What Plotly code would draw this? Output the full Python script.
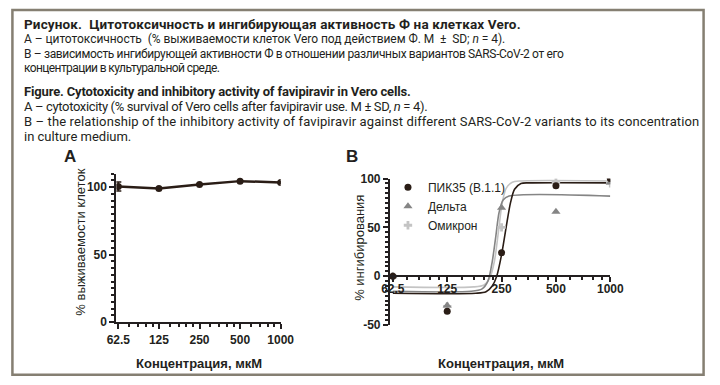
import math
import plotly.graph_objects as go

W, H = 720, 385
def px(x): return x / W
def py(y): return 1 - y / H

# ---------------- data ----------------
conc = [62.5, 125, 250, 500, 1000]
tick_text = ["62.5", "125", "250", "500", "1000"]

# Panel A: cytotoxicity (% survival), M ± SD
survival = [100.5, 99.0, 102.0, 104.5, 103.5]
survival_sd = [3.3, 0.5, 0.5, 0.5, 0.5]

# Panel B: % inhibition points
pik35 = [0, -36, 24, 92.5, 100]
delta = [0, -30, 70, 66, 96]
omicron = [0, -31, 50, 96, 95]

# Panel B: fitted curves
pik35_curve_x = [62.5, 180, 205, 222, 235, 250, 265, 280, 295, 320, 370, 1000]
pik35_curve_y = [-17.5, -17.5, -16, -10, 0, 22, 50, 75, 89, 95, 95.5, 95.5]
delta_curve_x = [62.5, 170, 195, 210, 222, 232, 242, 255, 275, 1000]
delta_curve_y = [-15.5, -15.5, -13, -5, 15, 40, 65, 78, 82, 82]
omicron_curve_x = [62.5, 175, 200, 215, 228, 240, 252, 265, 285, 320, 1000]
omicron_curve_y = [-11, -11, -9, -2, 15, 45, 75, 90, 96, 97.5, 97.5]

series_names = ["ПИК35 (B.1.1)", "Дельта", "Омикрон"]

# ---------------- style ----------------
INK = "#231f20"
DARK = "#2a1d16"
DGRAY = "#858585"
LGRAY = "#c4c4c4"
FONT = "Liberation Sans, Arial, sans-serif"
CAPT = "Roboto, Arial, sans-serif"

def minor_vals(majors):
    out = []
    for a in majors[:-1]:
        for f in (1.2, 1.4, 1.6, 1.8):
            out.append(a * f)
    return out

fig = go.Figure()

# Panel A
fig.add_trace(go.Scatter(
    x=conc, y=survival, mode="lines+markers",
    line=dict(color=DARK, width=2.5),
    marker=dict(color=DARK, size=7, symbol="circle"),
    error_y=dict(type="data", array=survival_sd, color=DARK, thickness=1.5, width=3),
    xaxis="x", yaxis="y", showlegend=False))

# Panel B curves
fig.add_trace(go.Scatter(x=omicron_curve_x, y=omicron_curve_y, mode="lines",
                         line=dict(color=LGRAY, width=1.6, shape="spline", smoothing=0.8),
                         xaxis="x2", yaxis="y2", showlegend=False))
fig.add_trace(go.Scatter(x=delta_curve_x, y=delta_curve_y, mode="lines",
                         line=dict(color=DGRAY, width=1.6, shape="spline", smoothing=0.8),
                         xaxis="x2", yaxis="y2", showlegend=False))
fig.add_trace(go.Scatter(x=pik35_curve_x, y=pik35_curve_y, mode="lines",
                         line=dict(color=DARK, width=1.6, shape="spline", smoothing=0.8),
                         xaxis="x2", yaxis="y2", showlegend=False))

# Panel B points
fig.add_trace(go.Scatter(x=conc, y=omicron, mode="markers", name=series_names[2],
                         marker=dict(color=LGRAY, size=7, symbol="cross"),
                         xaxis="x2", yaxis="y2", legendrank=3))
fig.add_trace(go.Scatter(x=conc, y=delta, mode="markers", name=series_names[1],
                         marker=dict(color=DGRAY, size=8, symbol="triangle-up"),
                         xaxis="x2", yaxis="y2", legendrank=2))
fig.add_trace(go.Scatter(x=conc, y=pik35, mode="markers", name=series_names[0],
                         marker=dict(color=DARK, size=7, symbol="circle"),
                         xaxis="x2", yaxis="y2", legendrank=1))

bold_ticks = ["<b>%s</b>" % t for t in tick_text]
common_x = dict(type="log", tickmode="array", tickvals=conc, ticktext=bold_ticks,
                ticks="outside", ticklen=5, tickwidth=2, tickcolor=INK,
                showline=True, linewidth=2, linecolor=INK, showgrid=False, zeroline=False,
                tickfont=dict(family=FONT, size=12, color=INK),
                minor=dict(tickmode="array", tickvals=minor_vals(conc), ticks="outside",
                           ticklen=3, tickwidth=1.5, tickcolor=INK, showgrid=False))
common_y = dict(ticks="outside", ticklen=5, tickwidth=2, tickcolor=INK,
                showline=True, linewidth=2, linecolor=INK, showgrid=False, zeroline=False,
                tickfont=dict(family=FONT, size=12, color=INK),
                minor=dict(dtick=5, tick0=0, ticks="outside", ticklen=3, tickwidth=1.5,
                           tickcolor=INK, showgrid=False))

fig.update_layout(
    width=W, height=H, margin=dict(l=0, r=0, t=0, b=0),
    paper_bgcolor="white", plot_bgcolor="white",
    font=dict(family=FONT, color=INK),
    xaxis=dict(domain=[px(110), px(280)], range=[math.log10(60.4), 3], anchor="y", **common_x),
    yaxis=dict(domain=[py(327), py(173)], range=[0, 110], anchor="x",
               tickvals=[0, 50, 100], ticktext=["<b>0</b>", "<b>50</b>", "<b>100</b>"], **common_y),
    xaxis2=dict(domain=[px(393), px(621)], range=[math.log10(60.2), 3], anchor="free",
                position=py(279), ticklabelstandoff=-3, **common_x),
    yaxis2=dict(domain=[py(330), py(178)], range=[-50, 100], anchor="x2",
                tickvals=[-50, 0, 50, 100],
                ticktext=["<b>-50</b>", "<b>0</b>", "<b>50</b>", "<b>100</b>"], **common_y),
    legend=dict(x=px(391), y=py(172), xanchor="left", yanchor="top",
                bgcolor="rgba(0,0,0,0)", font=dict(family=FONT, size=12, color=INK),
                tracegroupgap=0),
)

# frame
fig.add_shape(type="rect", xref="paper", yref="paper",
              x0=px(2.5), x1=px(717.5), y0=py(381.5), y1=py(3),
              line=dict(color="#857f72", width=2.5))

ann = []
def text(x, y, s, size=13, fam=FONT, xanchor="left", angle=0):
    ann.append(dict(x=px(x), y=py(y), xref="paper", yref="paper", text=s, showarrow=False,
                    xanchor=xanchor, yanchor="middle", textangle=angle,
                    font=dict(family=fam, size=size, color=INK)))

def sp(s, ls):
    return '<span style="letter-spacing:%spx">%s</span>' % (ls, s)

lines = [
    (17.5, 13.5, sp("<b>Рисунок.  Цитотоксичность и ингибирующая активность Ф на клетках Vero.</b>", 0.15)),
    (33, 12, sp("А – цитотоксичность  (% выживаемости клеток Vero под действием Ф. М  ±  SD; <i>n</i> = 4).", -0.05)),
    (48.3, 12, sp("В – зависимость ингибирующей активности Ф в отношении различных вариантов SARS-CoV-2 от его", -0.35)),
    (63.6, 12, sp("концентрации в культуральной среде.", -0.6)),
    (88, 13, sp("<b>Figure. Cytotoxicity and inhibitory activity of favipiravir in Vero cells.</b>", -0.15)),
    (103.3, 13, sp("A – cytotoxicity (% survival of Vero cells after favipiravir use. M ± SD, <i>n</i> = 4).", -0.35)),
    (118.6, 13, sp("B – the relationship of the inhibitory activity of favipiravir against different SARS-CoV-2 variants to its concentration", 0.12)),
    (133.9, 13, "in culture medium."),
]
for y, size, s in lines:
    text(12, y, s, size=size, fam=CAPT)

text(62.5, 155.5, "<b>A</b>", size=17, xanchor="center")
text(354, 155.5, "<b>B</b>", size=17, xanchor="center")
text(73, 244, "% выживаемости клеток", size=13, xanchor="center", angle=-90)
text(362, 250, "% ингибирования", size=13, xanchor="center", angle=-90)
text(195, 370, "<b>Концентрация, мкМ</b>", size=13, xanchor="center")
text(508, 370, "<b>Концентрация, мкМ</b>", size=13, xanchor="center")

fig.update_layout(annotations=ann)
fig.write_html(
    "out.html",
    config={"displayModeBar": False},
    post_script="document.body.style.margin='0';document.body.style.padding='0';"
                "document.documentElement.style.overflow='hidden';",
)
